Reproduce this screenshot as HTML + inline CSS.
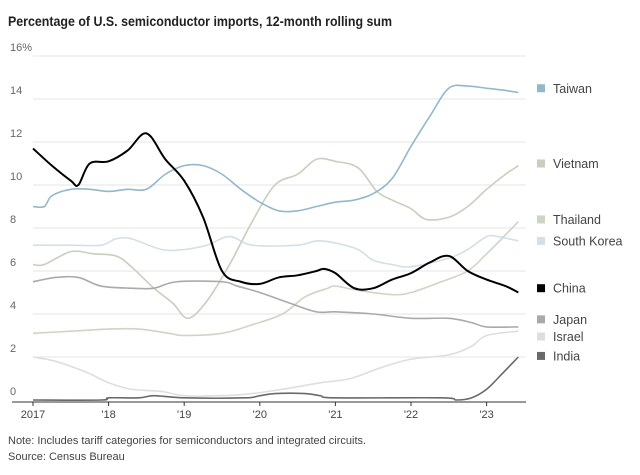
<!DOCTYPE html>
<html><head><meta charset="utf-8"><style>
body{margin:0;background:#fff;width:640px;height:470px;overflow:hidden;font-family:"Liberation Sans",sans-serif}
</style></head><body>
<svg id="chart" width="640" height="470" xmlns="http://www.w3.org/2000/svg" font-family="Liberation Sans, sans-serif">
<text x="8" y="26" font-size="14" font-weight="bold" fill="#222" textLength="384" lengthAdjust="spacingAndGlyphs">Percentage of U.S. semiconductor imports, 12-month rolling sum</text>
<g id="grid"></g><g id="series"></g><g id="legend"></g>
<text x="8" y="444" font-size="11" fill="#444">Note: Includes tariff categories for semiconductors and integrated circuits.</text>
<text x="8" y="460" font-size="11" fill="#444">Source: Census Bureau</text>
</svg>
<script>
const yTicks=[0,2,4,6,8,10,12,14,16];
const yTickLabels=["0","2","4","6","8","10","12","14","16%"];
const xTicks=[2017,2018,2019,2020,2021,2022,2023];
const xTickLabels=["2017","'18","'19","'20","'21","'22","'23"];
const seriesNames=["South Korea","Thailand","Vietnam","Israel","Japan","India","Taiwan","China"];
const seriesColors=["#d3e0e8","#cdd6c4","#c6d0bd","#dedede","#aaaaaa","#6a6a6a","#92b8cc","#000000"];
const taiwanX=[2017,2017.15,2017.25,2017.5,2017.75,2018,2018.25,2018.5,2018.75,2019,2019.25,2019.5,2019.75,2020,2020.25,2020.5,2020.75,2021,2021.25,2021.5,2021.75,2022,2022.25,2022.5,2022.75,2023,2023.25,2023.42];
const taiwanY=[9.0,9.0,9.5,9.8,9.8,9.7,9.8,9.8,10.5,10.9,10.9,10.5,9.8,9.2,8.8,8.8,9.0,9.2,9.3,9.6,10.3,11.8,13.2,14.5,14.6,14.5,14.4,14.3];
const chinaX=[2017,2017.25,2017.5,2017.6,2017.75,2018,2018.25,2018.5,2018.75,2019,2019.25,2019.5,2019.75,2020,2020.25,2020.5,2020.75,2020.85,2021,2021.25,2021.5,2021.75,2022,2022.25,2022.5,2022.75,2023,2023.25,2023.42];
const chinaY=[11.7,10.9,10.2,10.0,11.0,11.1,11.6,12.4,11.2,10.2,8.5,6.0,5.5,5.4,5.7,5.8,6.0,6.1,5.9,5.2,5.2,5.6,5.9,6.4,6.7,6.0,5.6,5.3,5.0];
const vietnamX=[2017,2017.15,2017.5,2017.8,2018.1,2018.3,2018.6,2018.85,2019.05,2019.3,2019.6,2019.9,2020.2,2020.5,2020.75,2021,2021.3,2021.55,2021.75,2022,2022.2,2022.5,2022.75,2023,2023.25,2023.42];
const vietnamY=[6.3,6.3,6.9,6.8,6.7,6.2,5.2,4.5,3.8,4.6,6.3,8.3,10.0,10.5,11.2,11.1,10.8,9.7,9.3,8.9,8.4,8.5,9.0,9.8,10.5,10.9];
const koreaX=[2017,2017.5,2017.9,2018.1,2018.3,2018.7,2019,2019.3,2019.6,2019.9,2020.5,2020.75,2021,2021.3,2021.5,2021.75,2022,2022.5,2022.75,2023,2023.15,2023.42];
const koreaY=[7.2,7.2,7.2,7.5,7.5,7.0,7.0,7.2,7.6,7.2,7.2,7.4,7.3,7.0,6.5,6.3,6.2,6.6,7.0,7.6,7.6,7.4];
const thailandX=[2017,2017.5,2018,2018.4,2018.8,2019.0,2019.5,2019.9,2020.3,2020.6,2020.9,2021.0,2021.3,2021.75,2022,2022.4,2022.75,2023,2023.2,2023.42];
const thailandY=[3.1,3.2,3.3,3.3,3.1,3.0,3.1,3.5,4.0,4.8,5.2,5.3,5.1,4.9,5.0,5.5,6.0,6.8,7.5,8.3];
const japanX=[2017,2017.3,2017.6,2017.9,2018.3,2018.6,2018.9,2019.5,2019.7,2020,2020.4,2020.75,2021,2021.5,2022,2022.5,2022.8,2023,2023.42];
const japanY=[5.5,5.7,5.7,5.3,5.2,5.2,5.5,5.5,5.3,5.0,4.5,4.1,4.1,4.0,3.8,3.8,3.6,3.4,3.4];
const israelX=[2017,2017.3,2017.7,2018,2018.3,2018.7,2019,2019.5,2019.9,2020.3,2020.8,2021.2,2021.6,2022,2022.5,2022.8,2023,2023.42];
const israelY=[2.0,1.8,1.3,0.8,0.5,0.4,0.2,0.2,0.3,0.5,0.8,1.0,1.5,1.9,2.1,2.5,3.0,3.2];
const indiaX=[2017,2017.9,2018,2018.4,2018.6,2019,2019.8,2020,2020.2,2020.6,2020.8,2021,2022.4,2022.6,2022.8,2023,2023.2,2023.42];
const indiaY=[0.0,0.0,0.1,0.1,0.2,0.1,0.1,0.2,0.3,0.3,0.2,0.1,0.1,0.0,0.1,0.5,1.2,2.0];
const allX=[koreaX,thailandX,vietnamX,israelX,japanX,indiaX,taiwanX,chinaX];
const allY=[koreaY,thailandY,vietnamY,israelY,japanY,indiaY,taiwanY,chinaY];
const legendNames=["Taiwan","Vietnam","Thailand","South Korea","China","Japan","Israel","India"];
const legendColors=["#92b8cc","#c6d0bd","#cdd6c4","#d3e0e8","#000000","#aaaaaa","#dedede","#6a6a6a"];
const legendValues=[14.5,11.0,8.4,7.4,5.2,3.75,2.95,2.05];

const NS="http://www.w3.org/2000/svg";
const x=v=>33+(v-2017)*75.6;
const y=v=>400-v*21.5;
function mk(t,a,p){const e=document.createElementNS(NS,t);for(const k in a)e.setAttribute(k,a[k]);p.appendChild(e);return e;}
const grid=document.getElementById('grid');
yTicks.forEach((t,i)=>{
  if(t>0){const l=mk('line',{x1:33,x2:526,y1:y(t),y2:y(t),stroke:'#e6e6e6','stroke-width':1},grid);
  
  }
  const tx=mk('text',{x:10,y:y(t)-5,'font-size':11,fill:'#666'},grid);tx.textContent=yTickLabels[i];
  
  
});
const ax=mk('line',{x1:12,x2:526,y1:402,y2:402,stroke:'#333','stroke-width':1},grid);


xTicks.forEach((t,i)=>{
  const tk=mk('line',{x1:x(t),x2:x(t),y1:402,y2:406,stroke:'#333'},grid);
  
  
  const tx=mk('text',{x:x(t),y:418,'font-size':11,fill:'#444','text-anchor':'middle'},grid);tx.textContent=xTickLabels[i];
  
  
});
function path(xs,ys){const p=xs.map((v,i)=>[x(v),y(ys[i])]);let d='M'+p[0][0]+','+p[0][1];
  for(let i=0;i<p.length-1;i++){const p0=p[i-1]||p[i],p1=p[i],p2=p[i+1],p3=p[i+2]||p2;
    d+=' C'+(p1[0]+(p2[0]-p0[0])/6)+','+(p1[1]+(p2[1]-p0[1])/6)+' '+(p2[0]-(p3[0]-p1[0])/6)+','+(p2[1]-(p3[1]-p1[1])/6)+' '+p2[0]+','+p2[1];}
  return d;}
const sg=document.getElementById('series');
seriesNames.forEach((n,i)=>{
  const e=mk('path',{d:path(allX[i],allY[i]),fill:'none',stroke:seriesColors[i],'stroke-width':n==='China'?2:1.6,'stroke-linejoin':'round'},sg);
  
  
});
const lg=document.getElementById('legend');
legendNames.forEach((n,i)=>{
  const yy=y(legendValues[i]);
  const r=mk('rect',{x:537,y:yy-4,width:8,height:8,fill:legendColors[i]},lg);
  
  
  const t=mk('text',{x:553,y:yy+4.5,'font-size':12.5,fill:'#444'},lg);t.textContent=n;
  
  
});
</script>
</body></html>
